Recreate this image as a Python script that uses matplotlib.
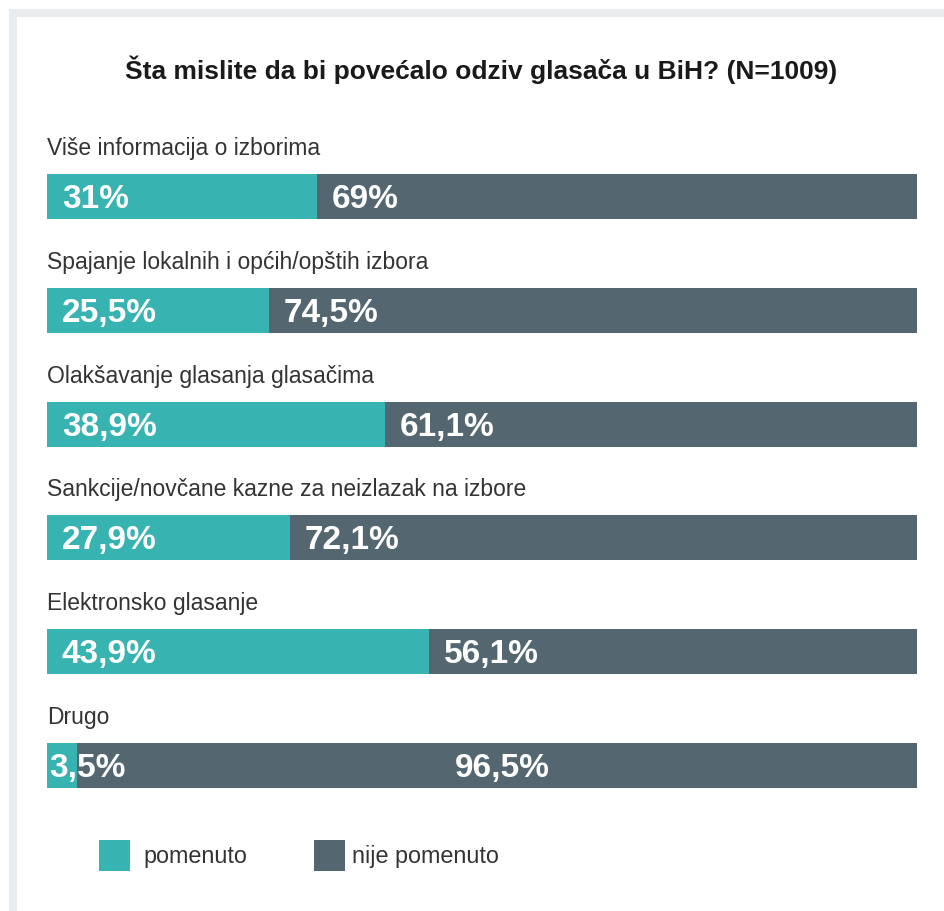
import matplotlib
matplotlib.use("Agg")
import matplotlib.pyplot as plt
from matplotlib.patches import Rectangle

plt.rcParams['font.family'] = ['Liberation Sans', 'DejaVu Sans']

title = "Šta mislite da bi povećalo odziv glasača u BiH? (N=1009)"
categories = [
    "Više informacija o izborima",
    "Spajanje lokalnih i općih/opštih izbora",
    "Olakšavanje glasanja glasačima",
    "Sankcije/novčane kazne za neizlazak na izbore",
    "Elektronsko glasanje",
    "Drugo",
]
pomenuto = [31.0, 25.5, 38.9, 27.9, 43.9, 3.5]
nije_pomenuto = [69.0, 74.5, 61.1, 72.1, 56.1, 96.5]
labels_pom = ["31%", "25,5%", "38,9%", "27,9%", "43,9%", "3,5%"]
labels_nije = ["69%", "74,5%", "61,1%", "72,1%", "56,1%", "96,5%"]
series_names = ["pomenuto", "nije pomenuto"]

TEAL = "#37b3b1"
GRAY = "#54666f"
FRAME = "#e8ecef"

W, H = 944, 911
fig = plt.figure(figsize=(W / 100, H / 100), dpi=100)
fig.patch.set_facecolor("white")

# frame (top and left band)
fig.add_artist(Rectangle((9 / W, 1 - 17 / H), 1 - 9 / W, 8 / H,
                         transform=fig.transFigure, color=FRAME, lw=0, zorder=0))
fig.add_artist(Rectangle((9 / W, 0), 8 / W, 1 - 9 / H,
                         transform=fig.transFigure, color=FRAME, lw=0, zorder=0))

fig.text(481 / W, 1 - 70 / H, title, ha="center", va="center",
         fontsize=19, fontweight="bold", color="#1a1a1a")

top_px, bot_px = 139.6, 822.4
ax = fig.add_axes([47 / W, 1 - bot_px / H, 870 / W, (bot_px - top_px) / H])
ax.set_xlim(0, 100)
ax.set_ylim(len(categories) - 0.5, -0.5)
ax.axis("off")

y = list(range(len(categories)))
ax.barh(y, pomenuto, height=0.395, color=TEAL, lw=0)
ax.barh(y, nije_pomenuto, left=pomenuto, height=0.395, color=GRAY, lw=0)

VAL_FS = 24
for i, cat in enumerate(categories):
    ax.text(0, i - 0.365, cat, ha="left", va="baseline", fontsize=16.5, color="#333333")
    if pomenuto[i] < 10:
        ax.text(0.3, i + 0.101, labels_pom[i], ha="left", va="baseline", fontsize=VAL_FS,
                fontweight="bold", color="white")
        ax.text(pomenuto[i] + nije_pomenuto[i] / 2 + 0.6, i + 0.101, labels_nije[i],
                ha="center", va="baseline", fontsize=VAL_FS, fontweight="bold",
                color="white")
    else:
        ax.text(1.7, i + 0.101, labels_pom[i], ha="left", va="baseline", fontsize=VAL_FS,
                fontweight="bold", color="white")
        ax.text(pomenuto[i] + 1.7, i + 0.101, labels_nije[i], ha="left", va="baseline",
                fontsize=VAL_FS, fontweight="bold", color="white")

# legend
leg_items = [(99, TEAL, 143), (314, GRAY, 352)]
for (x0, col, tx), name in zip(leg_items, series_names):
    fig.add_artist(Rectangle((x0 / W, 1 - 871 / H), 31 / W, 31 / H,
                             transform=fig.transFigure, color=col, lw=0))
    fig.text(tx / W, 1 - 863 / H, name, ha="left", va="baseline",
             fontsize=16.8, color="#333333")

fig.savefig("out.png", dpi=100)
